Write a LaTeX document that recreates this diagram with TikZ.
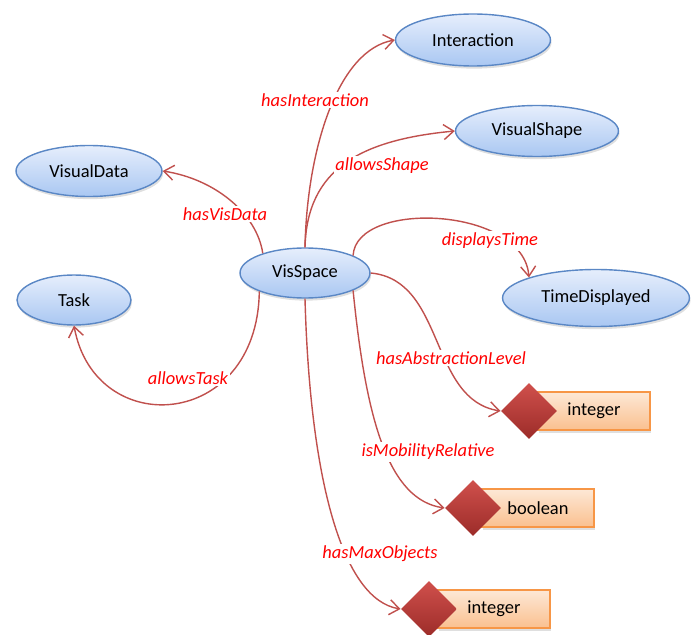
\documentclass[tikz,border=0pt]{standalone}
\usepackage{fontspec}
\setmainfont{Carlito}
\usepackage{xcolor}
\usetikzlibrary{shapes.geometric, arrows.meta, positioning, shadows}

\definecolor{clsborder}{HTML}{5A87C5}
\definecolor{clstop}{HTML}{E6EEFC}
\definecolor{clsbot}{HTML}{A9C7F2}
\definecolor{relred}{HTML}{C0504D}
\definecolor{dtop}{HTML}{FDE8D6}
\definecolor{dbot}{HTML}{FAC08F}
\definecolor{dborder}{HTML}{F79646}
\definecolor{mtop}{HTML}{D0504C}
\definecolor{mbot}{HTML}{9C2C29}

\begin{document}
\begin{tikzpicture}[
    x=0.02cm, y=-0.02cm,
    cls/.style={ellipse, draw=clsborder, line width=0.8pt, top color=clstop, bottom color=clsbot, inner sep=0pt, font=\fontsize{10.5}{12}\selectfont, drop shadow={shadow xshift=0.6pt, shadow yshift=-1.5pt, opacity=0.25}},
    dtype/.style={rectangle, draw=dborder, line width=0.8pt, top color=dtop, bottom color=dbot, minimum width=2.24cm, minimum height=0.76cm, font=\fontsize{10.5}{12}\selectfont, drop shadow={shadow xshift=0.6pt, shadow yshift=-1.5pt, opacity=0.25}},
    dmark/.style={diamond, top color=mtop, bottom color=mbot, minimum width=1.12cm, minimum height=1.12cm, inner sep=0pt},
    prop/.style={fill=white, text=red, font=\fontsize{10.5}{12}\selectfont\itshape, inner sep=1pt},
    rel/.style={->, draw=relred, line width=0.8pt},
    >={Straight Barb[length=2mm, width=3mm]}
]
\useasboundingbox (0,0) rectangle (691,635);

% Classes
\node[cls, minimum width=3.1cm, minimum height=1.04cm] (inter) at (473,40) {Interaction};
\node[cls, minimum width=3.26cm, minimum height=1.02cm] (vshape) at (537,131) {VisualShape};
\node[cls, minimum width=2.92cm, minimum height=1.02cm] (vdata) at (89,171) {VisualData};
\node[cls, minimum width=2.6cm, minimum height=1cm] (vis) at (305,273) {VisSpace};
\node[cls, minimum width=2.28cm, minimum height=1cm] (task) at (74,300) {Task};
\node[cls, minimum width=3.74cm, minimum height=1.14cm] (tdisp) at (596,298) {TimeDisplayed};

% Datatypes
\node[dtype] (int1) at (594,411) {integer};
\node[dmark, left=-0.4cm of int1] (int1m) {};
\node[dtype] (bool) at (538,508) {boolean};
\node[dmark, left=-0.4cm of bool] (boolm) {};
\node[dtype] (int2) at (494,609) {integer};
\node[dmark, left=-0.4cm of int2] (int2m) {};

% Properties
\draw[rel] (vis.north) .. controls +(2,-98) and +(-57,10) .. (inter.west);
\draw[rel] (vis.north) .. controls +(2,-78) and +(-95,9) .. (vshape.west);
\draw[rel] (vis.155) .. controls +(-6,-40) and +(52,8) .. (vdata.east);
\draw[rel] (vis.20) .. controls +(3,-56) and +(-5,-71) .. (tdisp.163);
\draw[rel] (vis.202) .. controls +(-2,139) and +(21,115) .. (task.south);
\draw[rel] (vis.east) .. controls +(75,7) and +(-72,-11) .. (int1m.west);
\draw[rel] (vis.-20) .. controls +(13,130) and +(-56,-8) .. (boolm.west);
\draw[rel] (vis.south) .. controls +(5,182) and +(-58,-9) .. (int2m.west);

% Property labels
\node[prop] (lInter) at (315,100) {hasInteraction};
\node[prop] (lShape) at (382,166) {allowsShape};
\node[prop] (lData) at (225,214) {hasVisData};
\node[prop] (lTime) at (490,241) {displaysTime};
\node[prop] (lTask) at (188,378) {allowsTask};
\node[prop] (lAbs) at (451,358) {hasAbstractionLevel};
\node[prop] (lMob) at (428,452) {isMobilityRelative};
\node[prop] (lMax) at (380,554) {hasMaxObjects};
\end{tikzpicture}
\end{document}
